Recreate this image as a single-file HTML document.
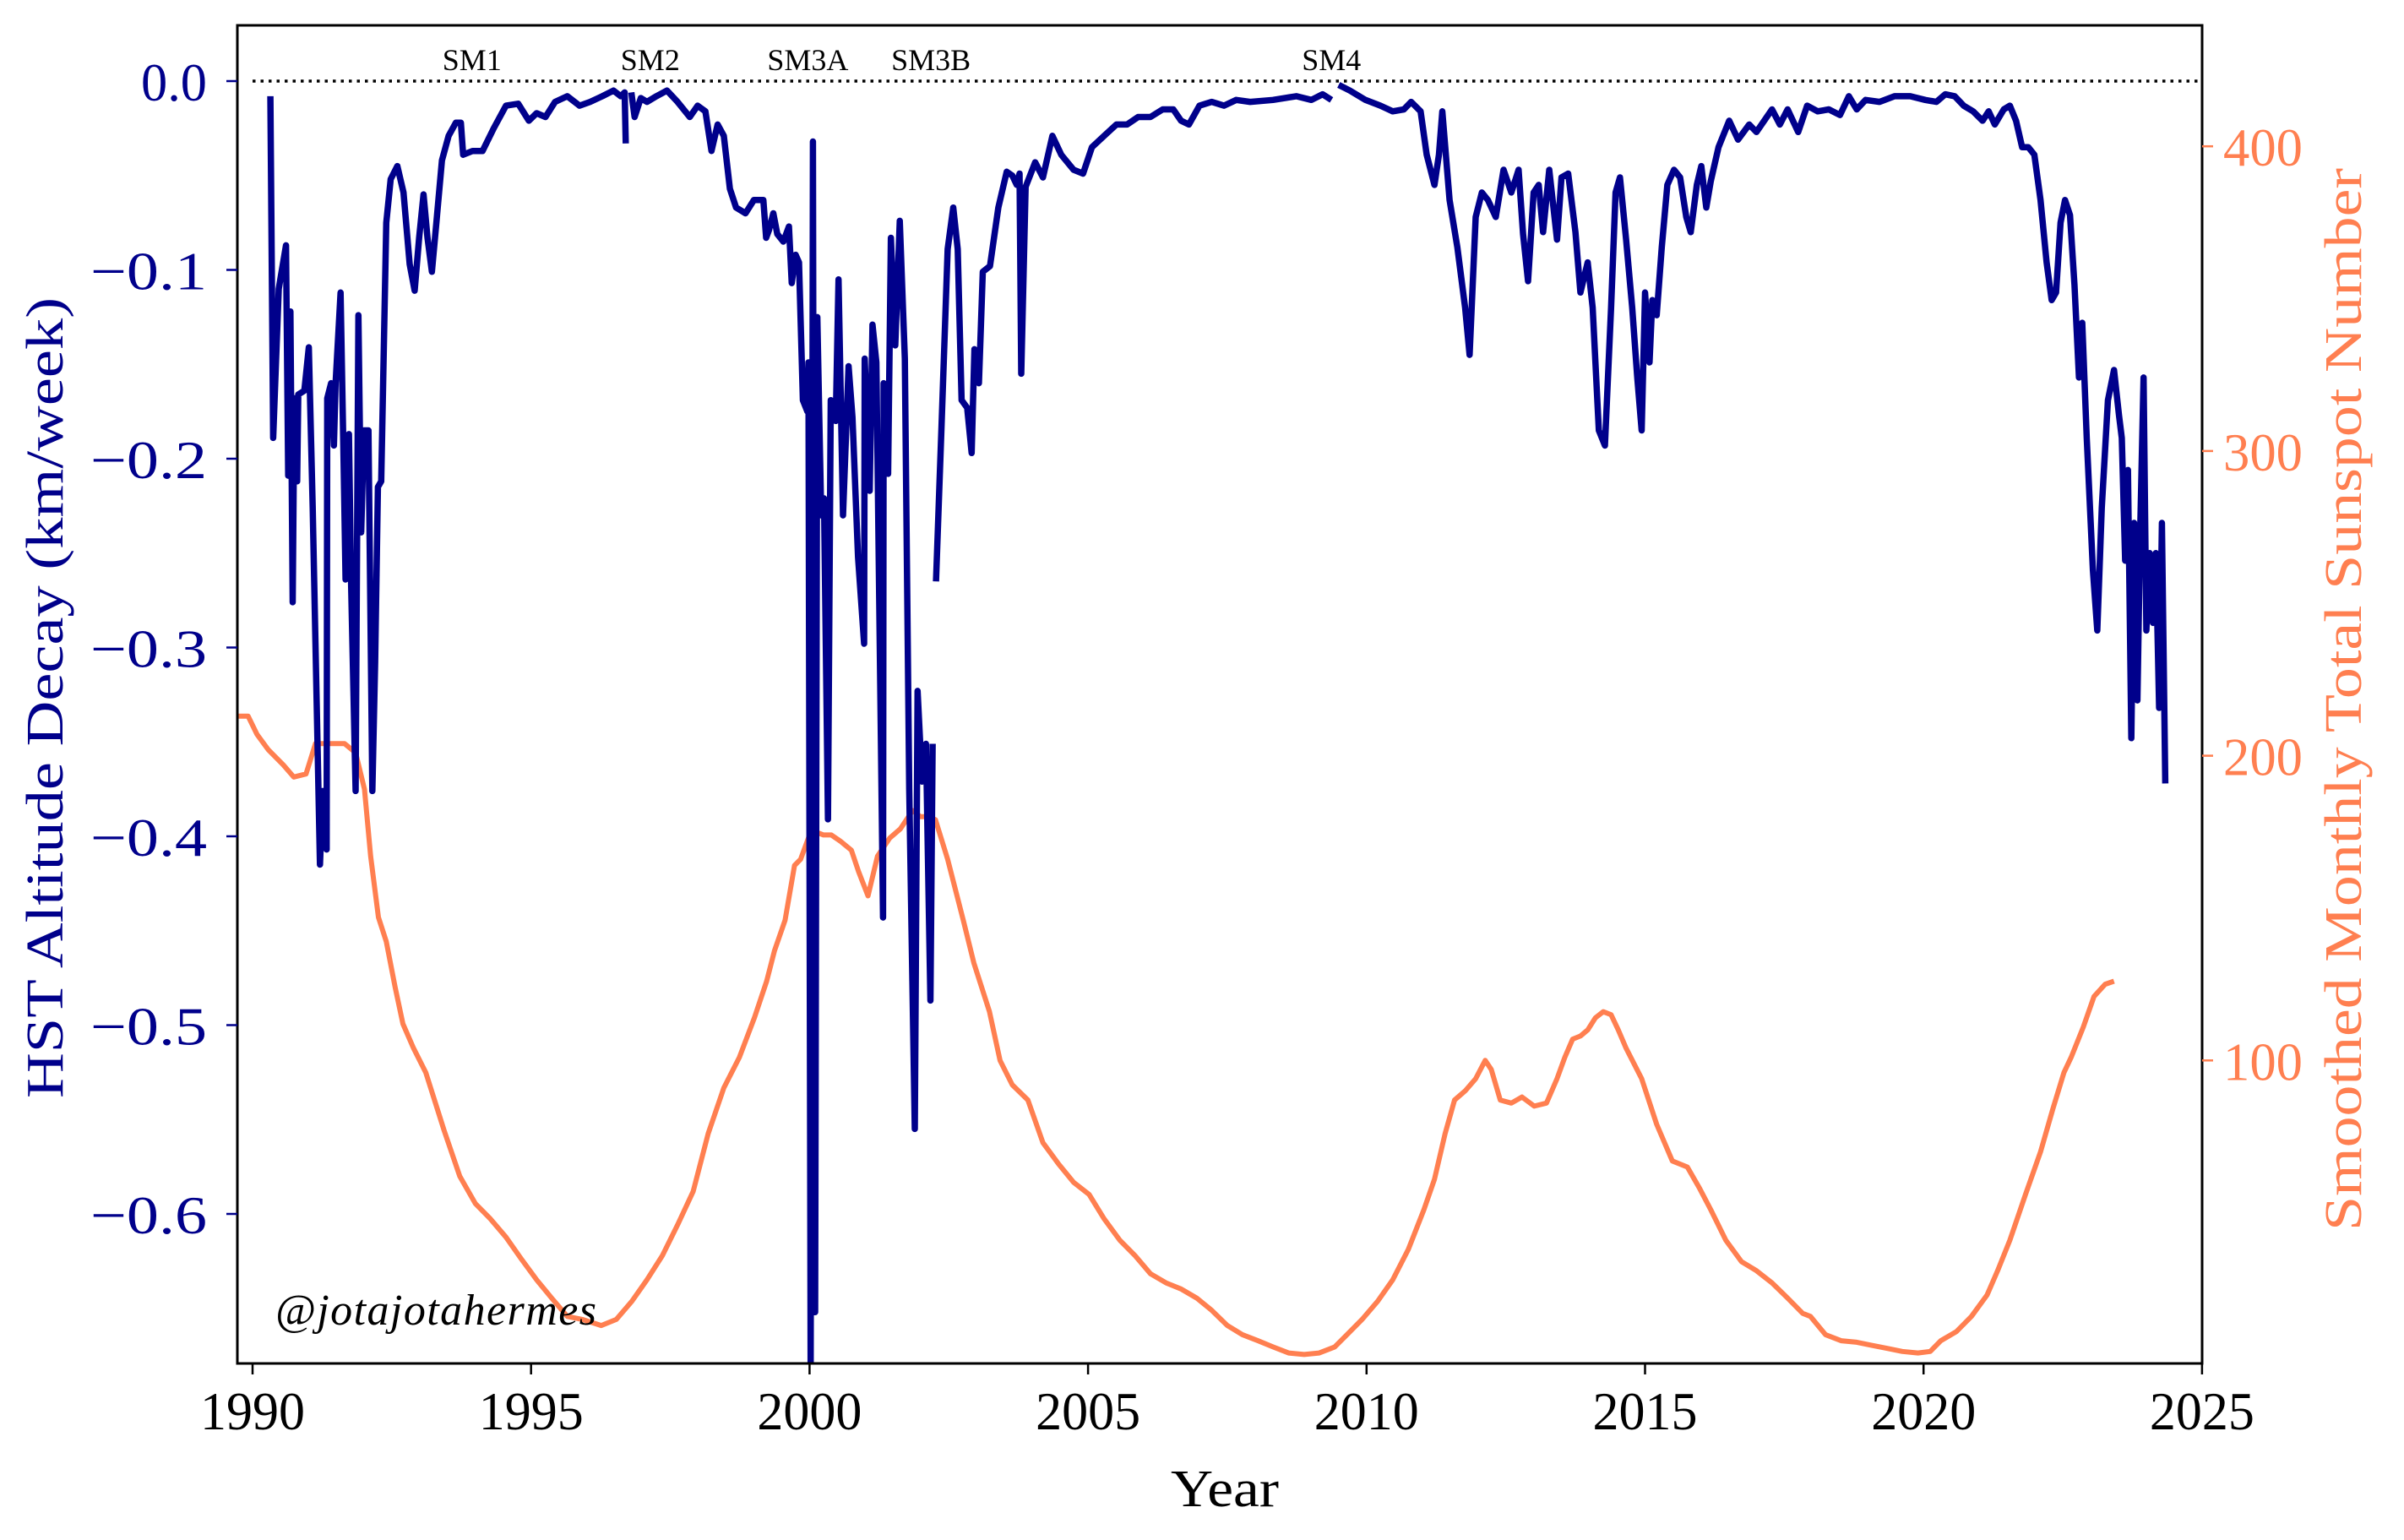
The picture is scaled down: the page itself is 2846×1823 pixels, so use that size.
<!DOCTYPE html>
<html><head><meta charset="utf-8"><style>
html,body{margin:0;padding:0;background:#fff;}
svg{display:block;font-family:"Liberation Serif",serif;}
</style></head><body>
<svg id="chart" width="2846" height="1823" viewBox="0 0 2846 1823" xmlns="http://www.w3.org/2000/svg">
<g id="plot"></g>
</svg>
<script>
const xTicks=[1990,1995,2000,2005,2010,2015,2020,2025];
const leftTicks=[0,-0.1,-0.2,-0.3,-0.4,-0.5,-0.6];
const leftTickLabels=["0.0","\u22120.1","\u22120.2","\u22120.3","\u22120.4","\u22120.5","\u22120.6"];
const rightTicks=[100,200,300,400];
const servicingNames=["SM1","SM2","SM3A","SM3B","SM4"];
const servicingYears=[1993.94,1997.14,1999.97,2002.18,2009.37];
const sunYears=[1989.72,1989.92,1990.08,1990.28,1990.55,1990.74,1990.96,1991.13,1991.38,1991.65,1991.85,1992.01,1992.12,1992.26,1992.40,1992.56,1992.70,1992.89,1993.11,1993.44,1993.72,1994.00,1994.27,1994.55,1994.82,1995.10,1995.37,1995.65,1995.92,1996.26,1996.53,1996.81,1997.08,1997.36,1997.63,1997.91,1998.18,1998.46,1998.74,1999.01,1999.23,1999.37,1999.56,1999.73,1999.84,2000.00,2000.11,2000.25,2000.39,2000.55,2000.75,2000.88,2001.05,2001.22,2001.44,2001.63,2001.85,2001.99,2002.12,2002.26,2002.48,2002.76,2002.95,2003.23,2003.42,2003.64,2003.92,2004.19,2004.47,2004.74,2005.02,2005.29,2005.57,2005.84,2006.12,2006.40,2006.67,2006.95,2007.22,2007.50,2007.77,2008.05,2008.32,2008.60,2008.88,2009.15,2009.43,2009.65,2009.92,2010.20,2010.47,2010.75,2011.03,2011.22,2011.41,2011.58,2011.77,2011.96,2012.13,2012.24,2012.40,2012.60,2012.79,2013.01,2013.23,2013.42,2013.56,2013.70,2013.84,2013.97,2014.11,2014.25,2014.39,2014.52,2014.66,2014.94,2015.21,2015.49,2015.76,2015.98,2016.18,2016.45,2016.73,2017.00,2017.28,2017.56,2017.83,2017.97,2018.24,2018.52,2018.80,2019.07,2019.35,2019.62,2019.90,2020.12,2020.31,2020.59,2020.86,2021.14,2021.33,2021.55,2021.83,2022.10,2022.32,2022.52,2022.65,2022.87,2023.06,2023.26,2023.42];
const sunValues=[213,213,207,202,197,193,194,204,204,204,201,189,167,147,139,124,112,104,96,77,62,53,48,42,35,28,22,16,15,13,15,21,28,36,46,57,76,91,101,114,126,136,146,164,166,174,175,174,174,172,169,162,154,167,173,176,182,180,180,179,166,146,132,116,100,92,87,73,66,60,56,48,41,36,30,27,25,22,18,13,10,8,6,4,3.5,4,6,10,15,21,28,38,51,61,76,87,90,94,100,97,87,86,88,85,86,94,101,107,108,110,114,116,115,110,104,94,79,67,65,58,51,41,34,31,27,22,17,16,10,8,7.5,6.5,5.5,4.5,4,4.5,8,11,16,23,31,41,56,70,84,96,101,111,121,125,126];
const decayYears=[1990.32,1990.37,1990.47,1990.60,1990.64,1990.68,1990.72,1990.75,1990.80,1990.82,1990.93,1991.01,1991.08,1991.21,1991.26,1991.33,1991.34,1991.41,1991.46,1991.49,1991.58,1991.63,1991.67,1991.73,1991.77,1991.85,1991.90,1991.95,1992.00,1992.08,1992.15,1992.20,1992.25,1992.31,1992.40,1992.48,1992.60,1992.71,1992.82,1992.91,1992.99,1993.07,1993.14,1993.22,1993.30,1993.40,1993.52,1993.65,1993.74,1993.78,1993.95,1994.13,1994.33,1994.55,1994.77,1994.96,1995.10,1995.26,1995.43,1995.65,1995.87,1996.06,1996.28,1996.48,1996.61,1996.68,1996.70,1996.72,1996.80,1996.86,1996.97,1997.08,1997.25,1997.44,1997.63,1997.85,1997.99,1998.13,1998.24,1998.35,1998.46,1998.57,1998.68,1998.85,1999.00,1999.17,1999.22,1999.27,1999.35,1999.42,1999.53,1999.63,1999.68,1999.75,1999.81,1999.88,1999.96,1999.98,2000.02,2000.06,2000.10,2000.14,2000.21,2000.26,2000.33,2000.38,2000.47,2000.52,2000.60,2000.70,2000.77,2000.87,2000.98,2000.99,2001.08,2001.13,2001.20,2001.32,2001.33,2001.41,2001.46,2001.54,2001.62,2001.71,2001.79,2001.89,2001.94,2002.02,2002.09,2002.17,2002.21,2002.24,2002.27,2002.37,2002.48,2002.58,2002.66,2002.73,2002.83,2002.91,2002.96,2003.04,2003.11,2003.24,2003.39,2003.54,2003.64,2003.72,2003.77,2003.80,2003.88,2004.05,2004.19,2004.36,2004.52,2004.74,2004.91,2005.07,2005.29,2005.51,2005.70,2005.90,2006.12,2006.34,2006.53,2006.67,2006.81,2007.00,2007.22,2007.44,2007.66,2007.91,2008.32,2008.74,2009.01,2009.21,2009.37,2009.41,2009.50,2009.70,2009.98,2010.25,2010.47,2010.67,2010.80,2010.97,2011.08,2011.22,2011.30,2011.36,2011.49,2011.63,2011.77,2011.85,2011.96,2012.07,2012.18,2012.32,2012.46,2012.60,2012.73,2012.81,2012.90,2013.00,2013.09,2013.17,2013.28,2013.42,2013.50,2013.62,2013.75,2013.84,2013.97,2014.06,2014.17,2014.28,2014.39,2014.47,2014.55,2014.66,2014.77,2014.86,2014.94,2015.00,2015.08,2015.13,2015.21,2015.30,2015.40,2015.52,2015.63,2015.74,2015.82,2015.93,2016.01,2016.10,2016.18,2016.32,2016.51,2016.67,2016.87,2017.00,2017.14,2017.28,2017.42,2017.56,2017.75,2017.91,2018.10,2018.30,2018.50,2018.66,2018.80,2018.96,2019.21,2019.48,2019.76,2020.03,2020.23,2020.39,2020.56,2020.72,2020.89,2021.06,2021.17,2021.28,2021.44,2021.55,2021.66,2021.77,2021.88,2021.99,2022.10,2022.21,2022.30,2022.38,2022.46,2022.54,2022.63,2022.71,2022.79,2022.85,2022.93,2023.04,2023.12,2023.20,2023.31,2023.42,2023.51,2023.56,2023.62,2023.67,2023.73,2023.78,2023.84,2023.89,2023.95,2024.00,2024.06,2024.12,2024.17,2024.23,2024.28,2024.34];
const decayValues=[-0.008,-0.189,-0.110,-0.087,-0.209,-0.122,-0.276,-0.168,-0.212,-0.166,-0.164,-0.141,-0.226,-0.415,-0.376,-0.407,-0.168,-0.160,-0.193,-0.160,-0.112,-0.194,-0.264,-0.187,-0.267,-0.376,-0.124,-0.239,-0.185,-0.185,-0.376,-0.308,-0.215,-0.212,-0.075,-0.052,-0.045,-0.059,-0.097,-0.111,-0.083,-0.060,-0.083,-0.101,-0.075,-0.042,-0.029,-0.022,-0.022,-0.039,-0.037,-0.037,-0.025,-0.013,-0.012,-0.021,-0.017,-0.019,-0.011,-0.008,-0.013,-0.011,-0.008,-0.005,-0.008,-0.006,-0.033,null,-0.006,-0.019,-0.009,-0.011,-0.008,-0.005,-0.011,-0.019,-0.013,-0.016,-0.037,-0.023,-0.029,-0.057,-0.067,-0.070,-0.063,-0.063,-0.083,-0.079,-0.070,-0.081,-0.085,-0.077,-0.107,-0.092,-0.096,-0.169,-0.175,-0.149,-0.680,-0.032,-0.652,-0.125,-0.230,-0.221,-0.391,-0.169,-0.180,-0.105,-0.230,-0.151,-0.178,-0.252,-0.298,-0.147,-0.217,-0.129,-0.149,-0.443,-0.160,-0.208,-0.083,-0.140,-0.074,-0.147,-0.375,-0.555,-0.323,-0.371,-0.351,-0.487,-0.351,null,-0.265,-0.182,-0.089,-0.067,-0.089,-0.169,-0.173,-0.197,-0.142,-0.160,-0.101,-0.098,-0.067,-0.048,-0.050,-0.055,-0.049,-0.155,-0.056,-0.043,-0.051,-0.029,-0.039,-0.047,-0.049,-0.035,-0.029,-0.023,-0.023,-0.019,-0.019,-0.015,-0.015,-0.021,-0.023,-0.013,-0.011,-0.013,-0.010,-0.011,-0.010,-0.008,-0.010,-0.007,-0.010,null,-0.002,-0.005,-0.010,-0.013,-0.016,-0.015,-0.011,-0.016,-0.039,-0.055,-0.039,-0.016,-0.063,-0.088,-0.120,-0.145,-0.072,-0.059,-0.063,-0.072,-0.047,-0.059,-0.047,-0.081,-0.106,-0.059,-0.055,-0.080,-0.047,-0.084,-0.051,-0.049,-0.080,-0.112,-0.096,-0.120,-0.185,-0.193,-0.120,-0.059,-0.051,-0.084,-0.120,-0.157,-0.185,-0.112,-0.149,-0.116,-0.124,-0.088,-0.055,-0.047,-0.051,-0.072,-0.080,-0.055,-0.045,-0.067,-0.053,-0.035,-0.021,-0.031,-0.023,-0.027,-0.021,-0.015,-0.023,-0.015,-0.027,-0.013,-0.016,-0.015,-0.018,-0.008,-0.015,-0.010,-0.011,-0.008,-0.008,-0.010,-0.011,-0.007,-0.008,-0.013,-0.016,-0.021,-0.016,-0.023,-0.015,-0.013,-0.021,-0.035,-0.035,-0.039,-0.063,-0.096,-0.116,-0.112,-0.075,-0.063,-0.071,-0.108,-0.157,-0.128,-0.189,-0.259,-0.291,-0.226,-0.169,-0.153,-0.177,-0.189,-0.254,-0.206,-0.348,-0.234,-0.328,-0.238,-0.157,-0.291,-0.250,-0.287,-0.250,-0.332,-0.234,-0.372];

const L=281,R=2607,T=30,B=1614;
const X=y=>299+(y-1990)*65.94;
const YL=v=>96-v*2235;
const YR=v=>1616-v*3.607;
const NS="http://www.w3.org/2000/svg";
const g=document.getElementById('plot');
function mk(tag,attrs,parent){const e=document.createElementNS(NS,tag);for(const k in attrs)e.setAttribute(k,attrs[k]);(parent||g).appendChild(e);return e;}

const defs=mk('defs',{});const cp=mk('clipPath',{id:'clip'},defs);mk('rect',{x:L,y:T,width:R-L,height:B-T},cp);

const zl=mk('line',{x1:X(1990),x2:R,y1:YL(0),y2:YL(0),stroke:'#000','stroke-width':3.5,'stroke-dasharray':'3.5 6'});



servicingNames.forEach((n,i)=>{const t=mk('text',{x:X(servicingYears[i]),y:83,'text-anchor':'middle','font-size':36,fill:'#000'});t.textContent=n;

});

let d='';sunYears.forEach((y,i)=>{d+=(i?'L':'M')+X(y).toFixed(1)+','+YR(sunValues[i]).toFixed(1);});
const sl=mk('path',{d:d,fill:'none',stroke:'#FF7F50','stroke-width':6,'stroke-linejoin':'round','clip-path':'url(#clip)'});



d='';let pen=false;decayYears.forEach((y,i)=>{const v=decayValues[i];if(v===null){pen=false;return;}d+=(pen?'L':'M')+X(y).toFixed(1)+','+YL(v).toFixed(1);pen=true;});
const dl=mk('path',{d:d,fill:'none',stroke:'#00008B','stroke-width':7.5,'stroke-linejoin':'round','clip-path':'url(#clip)'});



const wm=mk('text',{x:326,y:1568,'font-size':52,'font-style':'italic',fill:'#000',textLength:380});wm.textContent='@jotajotahermes';



const fr=mk('rect',{x:L,y:T,width:R-L,height:B-T,fill:'none',stroke:'#000','stroke-width':3});



xTicks.forEach(t=>{const x=X(t);mk('line',{x1:x,x2:x,y1:B,y2:B+13,stroke:'#000','stroke-width':2.5});
const tx=mk('text',{x:x,y:1692,'text-anchor':'middle','font-size':64,fill:'#000',textLength:124,lengthAdjust:'spacingAndGlyphs'});tx.textContent=t;

});
leftTicks.forEach((t,i)=>{const y=YL(t);mk('line',{x1:L,x2:L-13,y1:y,y2:y,stroke:'#00008B','stroke-width':2.5});
const tx=mk('text',{x:245,y:y+23,'text-anchor':'end','font-size':64,fill:'#00008B'});tx.textContent=leftTickLabels[i];
if(i>0){tx.setAttribute('textLength',138);tx.setAttribute('lengthAdjust','spacingAndGlyphs');}else{tx.setAttribute('textLength',78);tx.setAttribute('lengthAdjust','spacingAndGlyphs');}

});
rightTicks.forEach(t=>{const y=YR(t);mk('line',{x1:R,x2:R+13,y1:y,y2:y,stroke:'#FF7F50','stroke-width':2.5});
const tx=mk('text',{x:2632,y:y+23,'font-size':64,fill:'#FF7F50',textLength:94,lengthAdjust:'spacingAndGlyphs'});tx.textContent=t;

});

const xt=mk('text',{x:1450,y:1783,'text-anchor':'middle','font-size':62,fill:'#000',textLength:128,lengthAdjust:'spacingAndGlyphs'});xt.textContent='Year';


const yl=mk('text',{x:0,y:0,'text-anchor':'middle','font-size':62,fill:'#00008B',textLength:948,lengthAdjust:'spacingAndGlyphs',transform:'translate(74,826) rotate(-90)'});yl.textContent='HST Altitude Decay (km/week)';


const yr=mk('text',{x:0,y:0,'text-anchor':'middle','font-size':62,fill:'#FF7F50',textLength:1258,lengthAdjust:'spacingAndGlyphs',transform:'translate(2795,828) rotate(-90)'});yr.textContent='Smoothed Monthly Total Sunspot Number';


</script>
</body></html>
